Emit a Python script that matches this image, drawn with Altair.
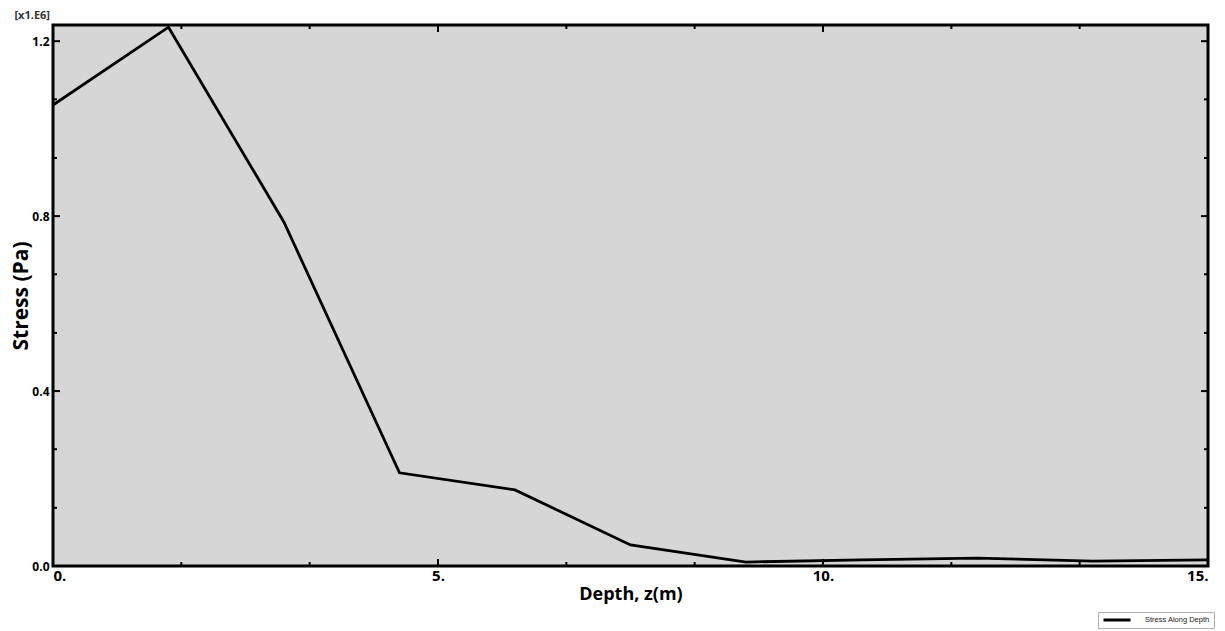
import altair as alt
import pandas as pd

# data
depth = [0, 1.5, 3, 4.5, 6, 7.5, 9, 10.5, 12, 13.5, 15]
stress = [1.054, 1.232, 0.786, 0.213, 0.174, 0.048, 0.009, 0.014, 0.018, 0.011, 0.014]
series_name = "Stress Along Depth"

x_major = [0, 5, 10, 15]
x_minor = [1.667, 3.333, 6.667, 8.333, 11.667, 13.333]
y_major = [0.0, 0.4, 0.8, 1.2]
y_minor = [0.133, 0.267, 0.533, 0.667, 0.933, 1.067]

W, H = 1155, 541
FONT = "Open Sans"

df = pd.DataFrame({"depth": depth, "stress": stress, "series": [series_name] * len(depth)})
xt = pd.DataFrame({"v": x_major + x_minor, "len": [7] * len(x_major) + [4] * len(x_minor)})
yt = pd.DataFrame({"v": y_major + y_minor, "len": [7] * len(y_major) + [4] * len(y_minor)})

xscale = alt.Scale(domain=[0, 15], nice=False, zero=False)
yscale = alt.Scale(domain=[0, 1.237], nice=False, zero=False)

line = alt.Chart(df).mark_line(strokeWidth=2.8, color="black").encode(
    x=alt.X("depth:Q", scale=xscale,
            axis=alt.Axis(title="Depth, z(m)", values=x_major, labelExpr="datum.value + '.'",
                          ticks=False, domain=False, grid=False,
                          labelFont=FONT, labelFontSize=15, labelFontWeight="bold", labelColor="black",
                          labelPadding=2, titleFont=FONT, titleFontSize=18, titleFontWeight="bold",
                          titleColor="black", titlePadding=2)),
    y=alt.Y("stress:Q", scale=yscale,
            axis=alt.Axis(title="Stress (Pa)", values=y_major, format=".1f",
                          ticks=False, domain=False, grid=False,
                          labelFont=FONT, labelFontSize=12, labelFontWeight="bold", labelColor="black",
                          labelPadding=4, titleFont=FONT, titleFontSize=21, titleFontWeight="bold",
                          titleColor="black", titlePadding=0)),
    color=alt.Color("series:N", scale=alt.Scale(range=["black"]),
                    legend=alt.Legend(title=None, orient="none", legendX=1045, legendY=587,
                                      symbolType="stroke", symbolSize=729, symbolStrokeWidth=3,
                                      clipHeight=8,
                                      labelFontSize=7.5, labelFont="Liberation Sans", labelColor="#222",
                                      strokeColor="#b0b0b0", fillColor="white", padding=4,
                                      labelOffset=13)),
)


def tick_layer(df_t, axis, side):
    layers = []
    for ln in (7, 4):
        sub = df_t[df_t["len"] == ln]
        if axis == "x":
            y0 = H if side == "bottom" else 0
            y1 = y0 - ln if side == "bottom" else y0 + ln
            layers.append(alt.Chart(sub).mark_rule(color="black", strokeWidth=2).encode(
                x=alt.X("v:Q", scale=xscale), y=alt.value(y0), y2=alt.value(y1)))
        else:
            x0 = 0 if side == "left" else W
            x1 = x0 + ln if side == "left" else x0 - ln
            layers.append(alt.Chart(sub).mark_rule(color="black", strokeWidth=2).encode(
                y=alt.Y("v:Q", scale=yscale), x=alt.value(x0), x2=alt.value(x1)))
    return layers


ticks = (tick_layer(xt, "x", "bottom") + tick_layer(xt, "x", "top")
         + tick_layer(yt, "y", "left") + tick_layer(yt, "y", "right"))

mult = alt.Chart(pd.DataFrame({"t": ["[x1.E6]"]})).mark_text(
    align="right", baseline="middle", font=FONT, fontSize=11, fontWeight="bold", color="#333"
).encode(x=alt.value(-3), y=alt.value(-9), text="t:N")

chart = alt.layer(line, *ticks, mult).properties(
    width=W, height=H,
    autosize=alt.AutoSizeParams(type="none"),
    padding={"left": 45, "top": 17, "right": 9, "bottom": 63},
).configure_view(
    fill="#d6d6d6", stroke="black", strokeWidth=3
)

chart.save("out.html", embed_options={"renderer": "svg", "actions": False})
